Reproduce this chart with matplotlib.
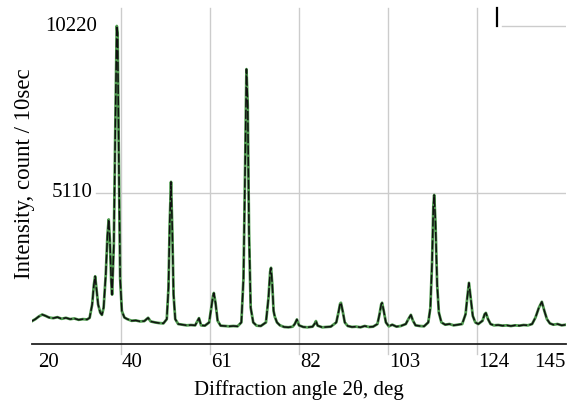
import matplotlib
matplotlib.use("Agg")
import matplotlib.pyplot as plt
import matplotlib.transforms as mtransforms

# ---- data ----
two_theta = [
    19.0, 19.8, 20.6, 21.4, 22.2, 23.0, 24.0, 25.0, 26.0, 27.0, 28.0, 29.0, 30.0, 31.0, 32.0, 32.6,
    33.2, 33.6, 33.9, 34.2, 34.6, 35.1, 35.5,
    35.9, 36.4, 36.8, 37.1, 37.4, 37.7, 37.9,
    38.3, 38.7, 39.0, 39.2, 39.5, 39.8, 40.2, 40.8, 41.5,
    42.5, 43.5, 44.5, 45.5, 46.4, 47.0, 48.0, 49.0, 50.0, 50.8,
    51.2, 51.5, 51.8, 52.1, 52.4, 52.8, 53.5, 54.5, 55.5, 56.5, 57.5, 58.4, 58.9, 59.8, 60.8,
    61.3, 61.7, 61.9, 62.3, 62.8, 63.5, 64.5, 65.5, 66.5, 67.5, 68.4,
    68.9, 69.3, 69.6, 69.9, 70.2, 70.6, 71.2, 72.0, 73.0, 74.2,
    74.8, 75.2, 75.4, 75.7, 76.0, 76.3, 76.8, 77.5, 78.5, 79.5, 80.5, 81.0, 81.5, 82.0, 83.0,
    84.0, 85.2, 85.7, 86.0, 86.4, 87.5, 88.5, 89.5, 90.8,
    91.3, 91.7, 91.9, 92.3, 92.8, 93.5, 94.5, 95.5, 96.5, 97.5, 98.5, 99.5, 100.5,
    101.0, 101.4, 101.6, 102.0, 102.5, 103.2, 104.0, 105.0, 106.0, 107.2, 107.8, 108.4, 108.9,
    109.5, 110.5, 111.5, 112.5,
    113.0, 113.4, 113.7, 113.9, 114.2, 114.6, 115.0, 115.6, 116.5, 117.5, 118.5, 119.5, 120.5, 121.3,
    121.7, 122.1, 122.5, 123.0, 123.6, 124.3, 125.3, 125.8, 126.1, 126.6, 127.2, 128.0, 129.0,
    130.0, 131.0, 132.0, 133.0, 134.0, 135.0, 136.0, 137.0, 137.8, 138.6,
    139.3, 139.9, 140.5, 141.2, 142.0, 143.0, 144.0, 145.0,
]
intensity = [
    1190, 1250, 1330, 1390, 1350, 1300, 1280, 1310, 1260, 1290, 1250, 1270, 1230, 1250, 1240, 1290,
    1700, 2300, 2560, 2200, 1700, 1450, 1380,
    1600, 2600, 3800, 4300, 3600, 2400, 2000,
    3500, 7500, 10220, 10000, 6000, 2500, 1500, 1300, 1250,
    1200, 1210, 1180, 1190, 1290, 1180, 1150, 1130, 1120, 1250,
    2200, 4200, 5450, 4000, 2000, 1250, 1100, 1080, 1060, 1070, 1060, 1280, 1060, 1050, 1150,
    1600, 1950, 2050, 1750, 1200, 1050, 1040, 1030, 1040, 1030, 1150,
    2500, 6000, 8900, 7800, 4000, 1600, 1150, 1050, 1040, 1150,
    1900, 2700, 2820, 2300, 1500, 1320, 1150, 1060, 1010, 1000, 1020, 1100, 1240, 1060, 1010,
    1000, 1020, 1110, 1190, 1050, 1000, 1010, 1020, 1150,
    1450, 1720, 1750, 1500, 1150, 1040, 1010, 1020, 1000, 1040, 1010, 1020, 1100,
    1400, 1700, 1750, 1500, 1150, 1030, 1080, 1020, 1040, 1100, 1250, 1380, 1200,
    1060, 1040, 1030, 1150,
    1600, 3000, 4700, 5050, 4200, 2300, 1450, 1150, 1080, 1100, 1060, 1080, 1100, 1400,
    1900, 2360, 1900, 1350, 1150, 1100, 1200, 1400, 1440, 1250, 1100, 1060, 1070,
    1050, 1060, 1040, 1060, 1050, 1070, 1060, 1100, 1300, 1600,
    1780, 1500, 1250, 1120, 1080, 1100, 1060, 1080,
]
x_ticks = [19, 40, 61, 82, 103, 124, 145]
x_tick_labels = ["20", "40", "61", "82", "103", "124", "145"]
y_ticks = [5110, 10220]
y_tick_labels = ["5110", "10220"]

W, H = 577, 407
fig = plt.figure(figsize=(W / 100, H / 100), dpi=100)
left, right, top, bottom = 32, 566, 8, 344
ax = fig.add_axes([left / W, 1 - bottom / H, (right - left) / W, (bottom - top) / H])

plt.rcParams['font.family'] = ['Liberation Serif', 'DejaVu Serif']
FS = 15

ax.set_xlim(19, 145)
ax.set_ylim(489, 10771)
for s in ax.spines.values():
    s.set_visible(False)
ax.set_xticks([])
ax.set_yticks([])

grid_c = "#cccccc"
trans_xa = mtransforms.blended_transform_factory(ax.transData, ax.transAxes)
trans_ay = mtransforms.blended_transform_factory(ax.transAxes, ax.transData)

# vertical gridlines
for xv in x_ticks[1:-1]:
    ax.plot([xv, xv], [-0.03, 1.0], transform=trans_xa, color=grid_c, lw=1.0,
            clip_on=False, zorder=0)
# horizontal gridlines
ax.plot([0.12, 1.0], [y_ticks[0], y_ticks[0]], transform=trans_ay, color=grid_c,
        lw=1.0, zorder=0)
ax.plot([0.88, 1.0], [y_ticks[1], y_ticks[1]], transform=trans_ay, color=grid_c,
        lw=1.0, zorder=0)
# small black mark near top right
ax.plot([0.871, 0.871], [0.947, 1.0], transform=ax.transAxes, color="black", lw=1.6,
        clip_on=False)

# bottom axis line
ax.plot([0, 1], [0, 0], transform=ax.transAxes, color="#222222", lw=1.3, clip_on=False)

# data
ax.plot(two_theta, intensity, color="#4f9a4f", lw=2.0, zorder=2)
ax.plot(two_theta, intensity, color="#111111", lw=1.1, linestyle=(0, (6, 1.5)), zorder=3)

# x tick labels
for i, (xv, lab) in enumerate(zip(x_ticks, x_tick_labels)):
    if i == len(x_ticks) - 1:
        ha, dx = "right", 0
    elif i == 0:
        ha, dx = "left", 6
    else:
        ha, dx = "left", 1
    t = mtransforms.offset_copy(trans_xa, fig=fig, x=dx, y=0, units="dots")
    ax.text(xv, -0.054, lab, transform=t, ha=ha, va="center", fontsize=FS)

# y tick labels
ax.text(0.114, y_ticks[0], y_tick_labels[0], transform=trans_ay, ha="right", va="center",
        fontsize=FS)
ax.text(0.122, y_ticks[1] - 30, y_tick_labels[1], transform=trans_ay, ha="right",
        va="center", fontsize=FS)

# axis labels
fig.text(299 / W, 1 - 390 / H, "Diffraction angle 2θ, deg", ha="center", va="center",
         fontsize=FS)
fig.text(25 / W, 1 - 174 / H, "Intensity, count / 10sec", ha="center", va="center",
         rotation=90, fontsize=16.5)

fig.savefig("out.png", dpi=100)
